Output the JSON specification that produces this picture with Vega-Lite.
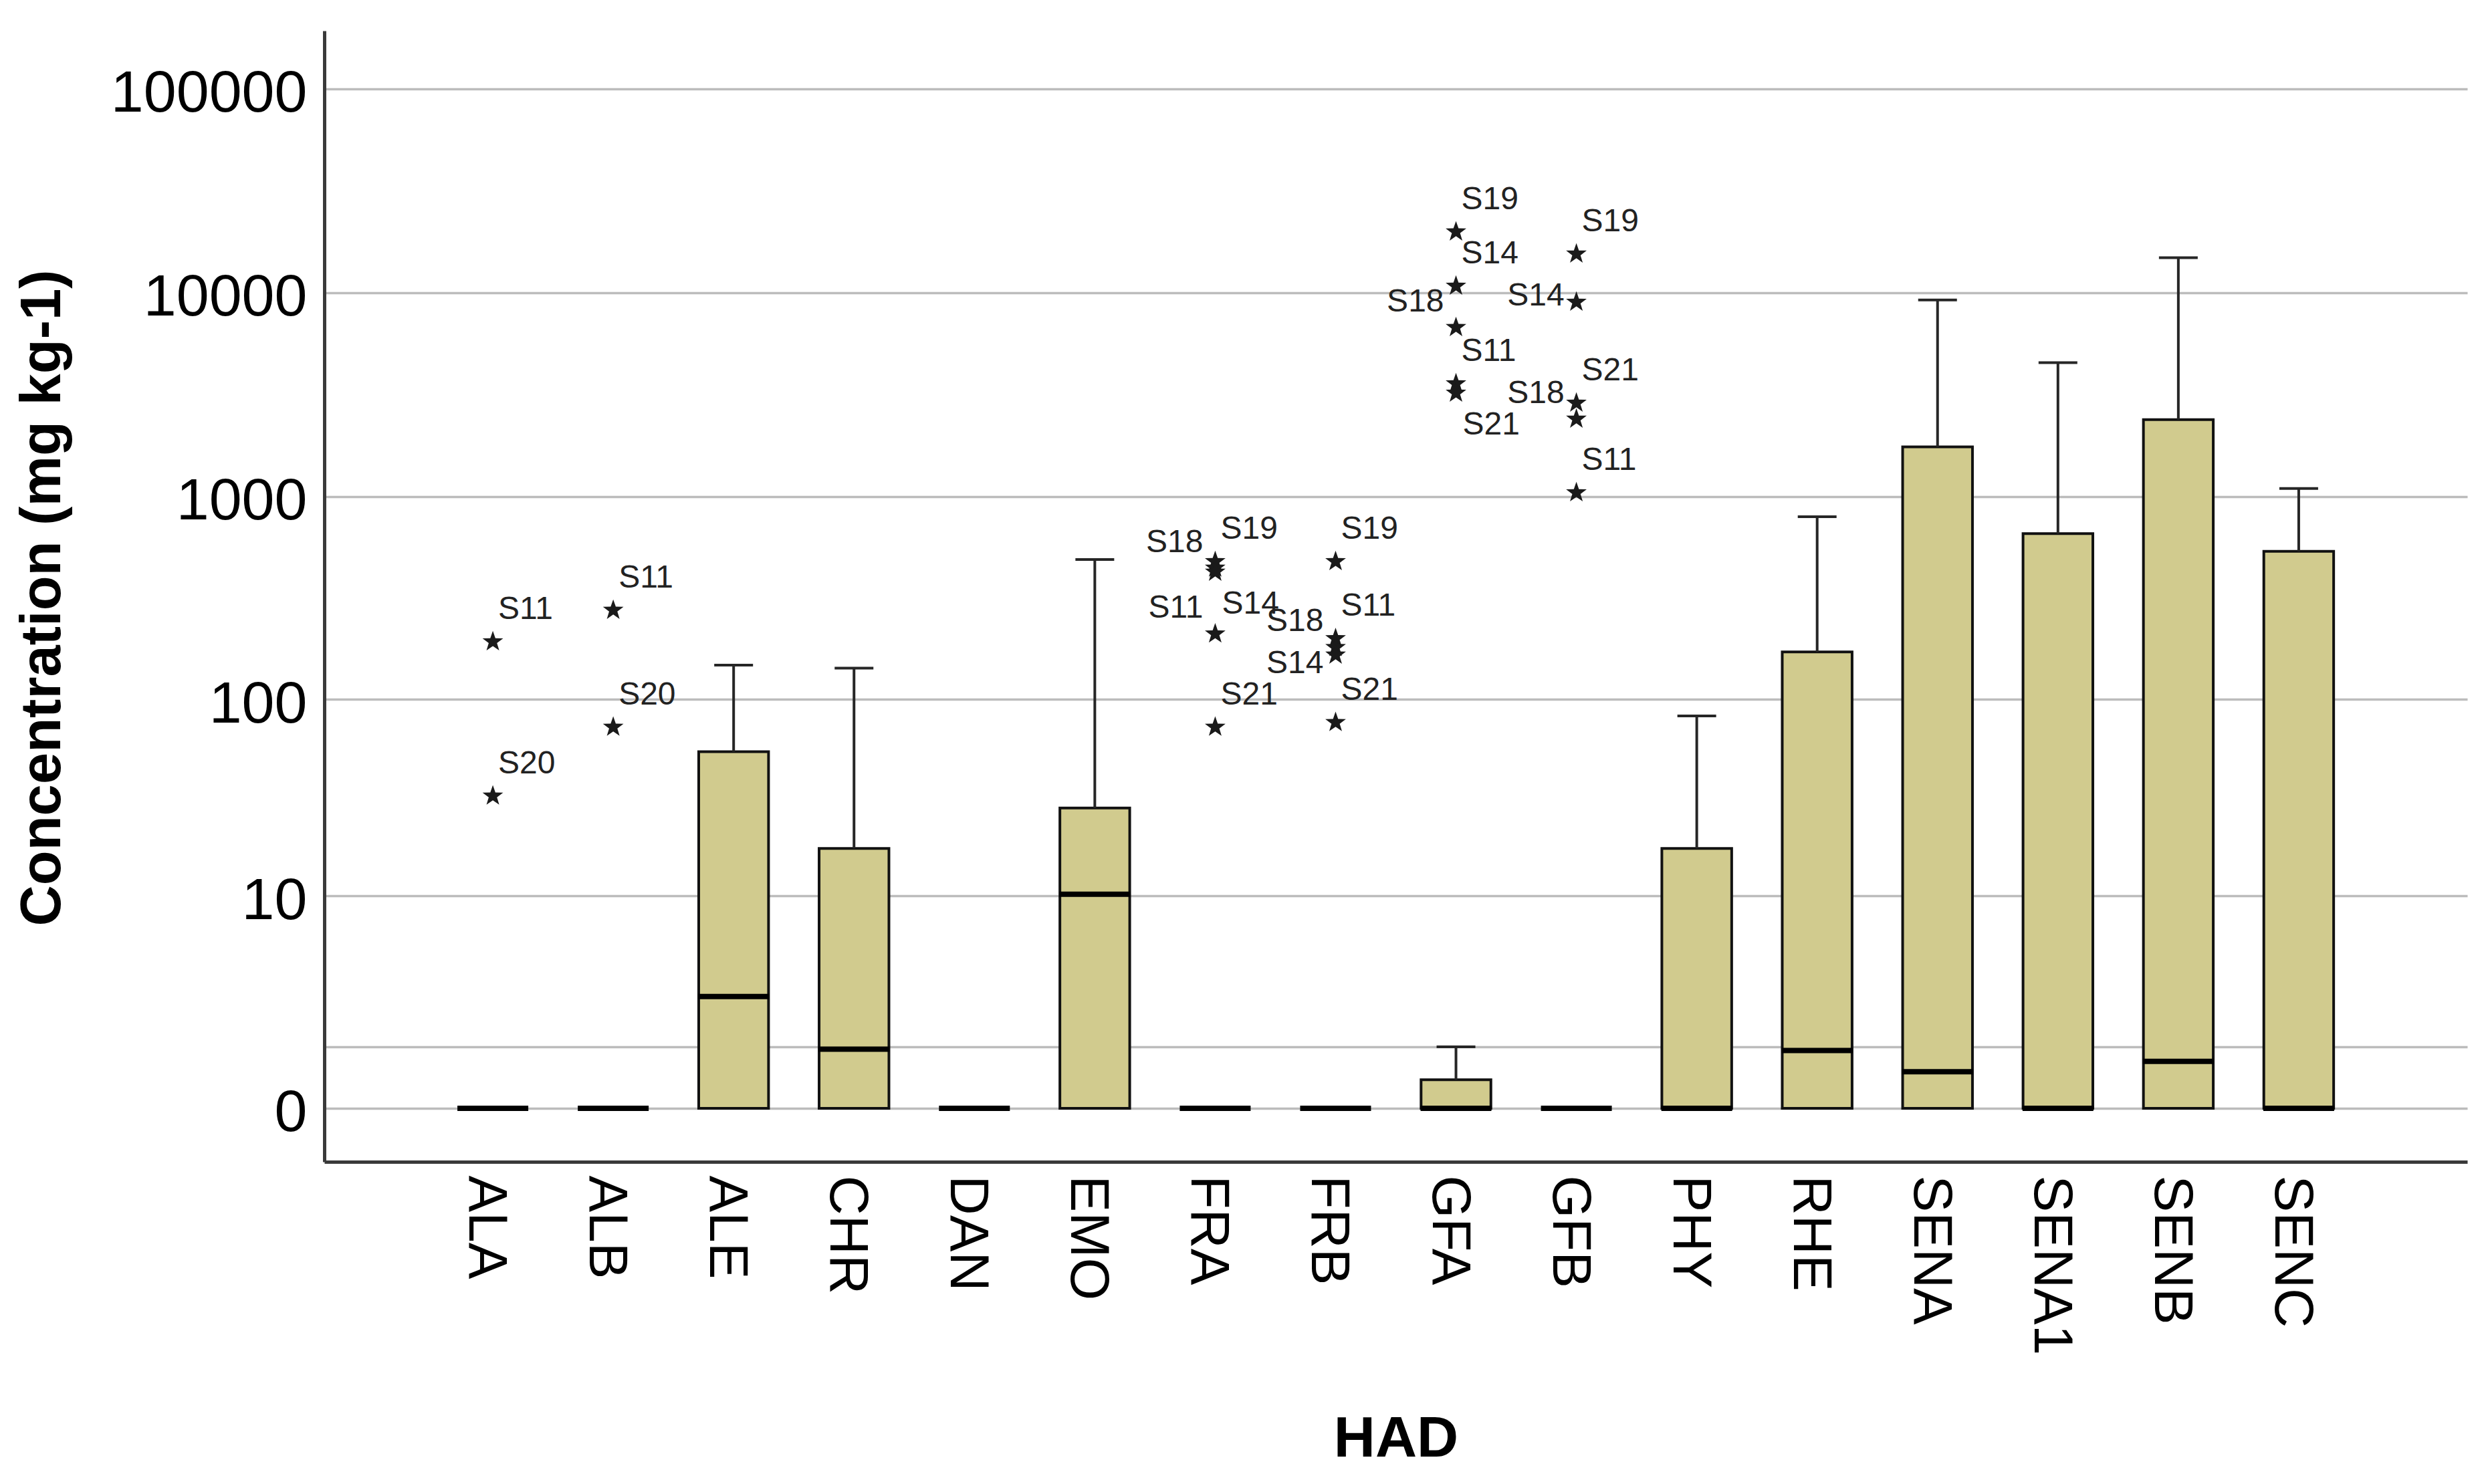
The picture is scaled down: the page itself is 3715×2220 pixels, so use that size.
{
  "$schema": "https://vega.github.io/schema/vega-lite/v6.json",
  "autosize": {"type": "none"},
  "padding": {"left": 485, "top": 46, "right": 25, "bottom": 482},
  "width": 3205,
  "height": 1692,
  "background": "white",
  "config": {"view": {"stroke": null}},
  "datasets": {
    "boxes": [
      {"g": "ALA", "q1": 0, "med": 0, "q3": 0, "upper": 0},
      {"g": "ALB", "q1": 0, "med": 0, "q3": 0, "upper": 0},
      {"g": "ALE", "q1": 0, "med": 2.53, "q3": 55.1, "upper": 148},
      {"g": "CHR", "q1": 0, "med": 0.95, "q3": 17.8, "upper": 143},
      {"g": "DAN", "q1": 0, "med": 0, "q3": 0, "upper": 0},
      {"g": "EMO", "q1": 0, "med": 10.2, "q3": 28.7, "upper": 490},
      {"g": "FRA", "q1": 0, "med": 0, "q3": 0, "upper": 0},
      {"g": "FRB", "q1": 0, "med": 0, "q3": 0, "upper": 0},
      {"g": "GFA", "q1": 0, "med": 0, "q3": 0.38, "upper": 1.0},
      {"g": "GFB", "q1": 0, "med": 0, "q3": 0, "upper": 0},
      {"g": "PHY", "q1": 0, "med": 0, "q3": 17.8, "upper": 83},
      {"g": "RHE", "q1": 0, "med": 0.92, "q3": 172, "upper": 795},
      {"g": "SENA", "q1": 0, "med": 0.51, "q3": 1750, "upper": 9200},
      {"g": "SENA1", "q1": 0, "med": 0, "q3": 657, "upper": 4535},
      {"g": "SENB", "q1": 0, "med": 0.7, "q3": 2380, "upper": 14830},
      {"g": "SENC", "q1": 0, "med": 0, "q3": 538, "upper": 1093}
    ],
    "outliers": [
      {"g": "ALA", "id": "S11", "v": 193, "pos": "ur"},
      {"g": "ALA", "id": "S20", "v": 33, "pos": "ur"},
      {"g": "ALB", "id": "S11", "v": 276, "pos": "ur"},
      {"g": "ALB", "id": "S20", "v": 73, "pos": "ur"},
      {"g": "FRA", "id": "S19", "v": 479, "pos": "ur"},
      {"g": "FRA", "id": "S18", "v": 445, "pos": "ul"},
      {"g": "FRA", "id": "S14", "v": 425, "pos": "lr"},
      {"g": "FRA", "id": "S11", "v": 211, "pos": "ul"},
      {"g": "FRA", "id": "S21", "v": 73, "pos": "ur"},
      {"g": "FRB", "id": "S19", "v": 479, "pos": "ur"},
      {"g": "FRB", "id": "S11", "v": 200, "pos": "ur"},
      {"g": "FRB", "id": "S18", "v": 181, "pos": "ul"},
      {"g": "FRB", "id": "S14", "v": 166, "pos": "ll"},
      {"g": "FRB", "id": "S21", "v": 77, "pos": "ur"},
      {"g": "GFA", "id": "S19", "v": 19850, "pos": "ur"},
      {"g": "GFA", "id": "S14", "v": 10765, "pos": "ur"},
      {"g": "GFA", "id": "S18", "v": 6744, "pos": "ul"},
      {"g": "GFA", "id": "S11", "v": 3575, "pos": "ur"},
      {"g": "GFA", "id": "S21", "v": 3217, "pos": "lr"},
      {"g": "GFB", "id": "S19", "v": 15470, "pos": "ur"},
      {"g": "GFB", "id": "S14", "v": 8983, "pos": "l"},
      {"g": "GFB", "id": "S21", "v": 2873, "pos": "ur"},
      {"g": "GFB", "id": "S18", "v": 2397, "pos": "ul"},
      {"g": "GFB", "id": "S11", "v": 1044, "pos": "ur"}
    ]
  },
  "encoding": {
    "x": {
      "field": "g",
      "type": "nominal",
      "sort": null,
      "scale": {
        "type": "band",
        "domain": ["ALA", "ALB", "ALE", "CHR", "DAN", "EMO", "FRA", "FRB", "GFA", "GFB", "PHY", "RHE", "SENA", "SENA1", "SENB", "SENC"],
        "paddingInner": 0,
        "paddingOuter": 0.9
      },
      "axis": {
        "title": "HAD",
        "titleFont": "Liberation Sans",
        "titleFontSize": 86,
        "titleFontWeight": "bold",
        "titleColor": "#000000",
        "titleBaseline": "alphabetic",
        "titleY": 440,
        "labelAngle": 90,
        "labelFont": "Liberation Sans",
        "labelFontSize": 82,
        "labelColor": "#000000",
        "labelPadding": 20,
        "labelOffset": -10,
        "labelLimit": 0,
        "labelOverlap": false,
        "ticks": false,
        "grid": false,
        "domain": true,
        "domainColor": "#3a3a3a",
        "domainWidth": 5
      }
    }
  },
  "layer": [
    {
      "data": {"name": "boxes"},
      "mark": {"type": "bar", "width": {"band": 0.58}, "fill": "#d1cb8e", "stroke": "#111111", "strokeWidth": 4},
      "encoding": {
        "y": {
          "field": "q1",
          "type": "quantitative",
          "scale": {"type": "symlog", "constant": 1, "domain": [-0.83, 192300], "nice": false, "zero": false},
          "axis": {
            "title": "Concentration (mg kg-1)",
            "titleFont": "Liberation Sans",
            "titleFontSize": 85,
            "titleFontWeight": "bold",
            "titleColor": "#000000",
            "titleAngle": -90,
            "titleAlign": "center",
            "titleBaseline": "alphabetic",
            "titleX": -396,
            "titleY": 848,
            "values": [0, 1, 10, 100, 1000, 10000, 100000],
            "format": "d",
            "labelExpr": "datum.value == 1 ? '' : datum.label",
            "labelFont": "Liberation Sans",
            "labelFontSize": 88,
            "labelColor": "#000000",
            "labelPadding": 26,
            "labelOffset": 8,
            "labelLimit": 0,
            "labelOverlap": false,
            "ticks": false,
            "grid": true,
            "gridColor": "#bcbcbc",
            "gridWidth": 3.5,
            "domain": true,
            "domainColor": "#3a3a3a",
            "domainWidth": 5
          }
        },
        "y2": {"field": "q3"}
      }
    },
    {
      "data": {"name": "boxes"},
      "transform": [{"filter": "datum.upper > datum.q3"}],
      "mark": {"type": "rule", "color": "#262626", "strokeWidth": 4},
      "encoding": {
        "y": {"field": "q3", "type": "quantitative"},
        "y2": {"field": "upper"}
      }
    },
    {
      "data": {"name": "boxes"},
      "transform": [{"filter": "datum.upper > datum.q3"}],
      "mark": {"type": "tick", "orient": "horizontal", "color": "#262626", "size": 58, "thickness": 4, "opacity": 1},
      "encoding": {
        "y": {"field": "upper", "type": "quantitative"}
      }
    },
    {
      "data": {"name": "boxes"},
      "mark": {"type": "tick", "orient": "horizontal", "color": "#000000", "size": 106, "thickness": 8, "opacity": 1},
      "encoding": {
        "y": {"field": "med", "type": "quantitative"}
      }
    },
    {
      "data": {"name": "outliers"},
      "mark": {
        "type": "point",
        "shape": "M0,-1L0.235,-0.324L0.951,-0.309L0.38,0.124L0.588,0.809L0,0.4L-0.588,0.809L-0.38,0.124L-0.951,-0.309L-0.235,-0.324Z",
        "filled": true,
        "size": 1050,
        "color": "#1a1a1a",
        "opacity": 1
      },
      "encoding": {
        "y": {"field": "v", "type": "quantitative"}
      }
    },
    {
      "data": {"name": "outliers"},
      "transform": [{"filter": "datum.pos == 'ur'"}],
      "mark": {"type": "text", "align": "left", "baseline": "alphabetic", "dx": 8, "dy": -34, "font": "Liberation Sans", "fontSize": 48, "color": "#222222"},
      "encoding": {
        "y": {"field": "v", "type": "quantitative"},
        "text": {"field": "id"}
      }
    },
    {
      "data": {"name": "outliers"},
      "transform": [{"filter": "datum.pos == 'ul'"}],
      "mark": {"type": "text", "align": "right", "baseline": "alphabetic", "dx": -18, "dy": -24, "font": "Liberation Sans", "fontSize": 48, "color": "#222222"},
      "encoding": {
        "y": {"field": "v", "type": "quantitative"},
        "text": {"field": "id"}
      }
    },
    {
      "data": {"name": "outliers"},
      "transform": [{"filter": "datum.pos == 'll'"}],
      "mark": {"type": "text", "align": "right", "baseline": "alphabetic", "dx": -18, "dy": 27, "font": "Liberation Sans", "fontSize": 48, "color": "#222222"},
      "encoding": {
        "y": {"field": "v", "type": "quantitative"},
        "text": {"field": "id"}
      }
    },
    {
      "data": {"name": "outliers"},
      "transform": [{"filter": "datum.pos == 'lr'"}],
      "mark": {"type": "text", "align": "left", "baseline": "alphabetic", "dx": 10, "dy": 62, "font": "Liberation Sans", "fontSize": 48, "color": "#222222"},
      "encoding": {
        "y": {"field": "v", "type": "quantitative"},
        "text": {"field": "id"}
      }
    },
    {
      "data": {"name": "outliers"},
      "transform": [{"filter": "datum.pos == 'l'"}],
      "mark": {"type": "text", "align": "right", "baseline": "alphabetic", "dx": -18, "dy": 5, "font": "Liberation Sans", "fontSize": 48, "color": "#222222"},
      "encoding": {
        "y": {"field": "v", "type": "quantitative"},
        "text": {"field": "id"}
      }
    }
  ]
}
